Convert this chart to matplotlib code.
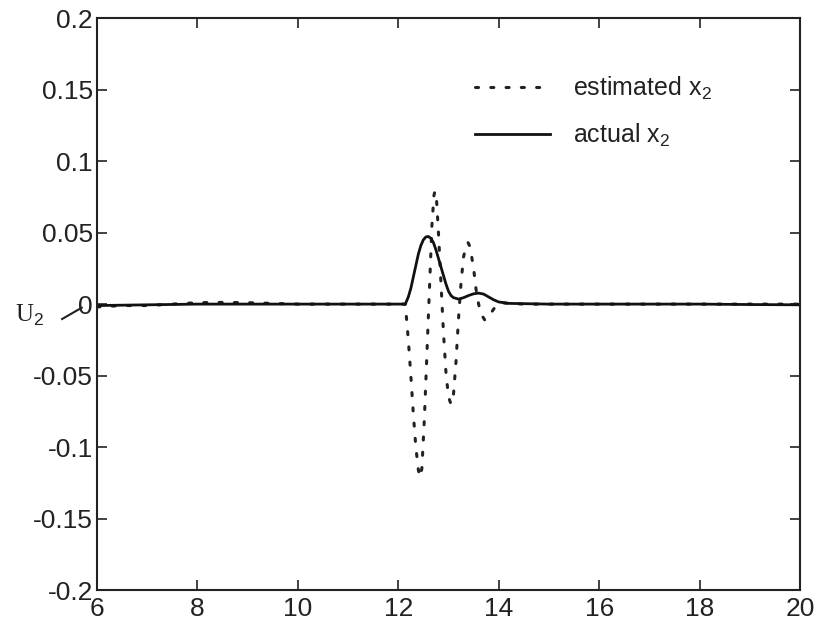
import matplotlib
matplotlib.use("Agg")
import matplotlib.pyplot as plt
from matplotlib.lines import Line2D

plt.rcParams['font.family'] = ['Liberation Sans', 'DejaVu Sans']
plt.rcParams['mathtext.fontset'] = 'custom'
plt.rcParams['mathtext.rm'] = 'Liberation Sans'

# actual x2
t_actual = [6, 7, 8, 9, 10, 11, 12, 12.14, 12.2, 12.25, 12.3, 12.35, 12.4, 12.45,
            12.5, 12.55, 12.6, 12.65, 12.7, 12.75, 12.8, 12.85, 12.9, 12.95, 13.0,
            13.05, 13.1, 13.2, 13.3, 13.4, 13.5, 13.6, 13.7, 13.8, 13.9, 14.0,
            14.2, 15, 16, 17, 18, 19, 20]
x2_actual = [-0.001, -0.0005, 0.0, 0.0, 0.0, 0.0, 0.0, 0.0, 0.005, 0.011, 0.019,
             0.027, 0.035, 0.041, 0.045, 0.047, 0.0473, 0.046, 0.043, 0.038,
             0.032, 0.026, 0.02, 0.014, 0.009, 0.006, 0.0045, 0.0035, 0.0045,
             0.006, 0.0072, 0.0077, 0.007, 0.005, 0.003, 0.0015, 0.0005, 0.0,
             0.0, 0.0, 0.0, -0.0003, -0.0005]

# estimated x2
t_est = [6, 6.5, 7, 7.5, 8, 8.5, 9, 9.5, 10, 11, 12, 12.14, 12.2, 12.25, 12.3,
         12.35, 12.4, 12.43, 12.47, 12.52, 12.57, 12.62, 12.67, 12.71, 12.73,
         12.76, 12.8, 12.85, 12.9, 12.95, 13.0, 13.05, 13.1, 13.15, 13.2, 13.25,
         13.3, 13.35, 13.39, 13.43, 13.5, 13.55, 13.6, 13.65, 13.72, 13.77,
         13.85, 13.95, 14.05, 14.2, 14.5, 15, 16, 17, 18, 19, 20]
x2_est = [-0.002, -0.001, -0.001, 0.0, 0.001, 0.0012, 0.001, 0.0005, 0.0, 0.0,
          0.0, 0.0, -0.025, -0.05, -0.077, -0.1, -0.116, -0.121, -0.115, -0.08,
          -0.035, 0.01, 0.055, 0.076, 0.079, 0.074, 0.05, 0.015, -0.02, -0.048,
          -0.065, -0.070, -0.063, -0.04, -0.01, 0.015, 0.033, 0.041, 0.043,
          0.04, 0.025, 0.01, 0.0, -0.007, -0.011, -0.0105, -0.006, -0.001,
          0.001, 0.0005, 0.0, 0.0, 0.0, 0.0, 0.0, 0.0, 0.0]

xticks = [6, 8, 10, 12, 14, 16, 18, 20]
yticks = [-0.2, -0.15, -0.1, -0.05, 0, 0.05, 0.1, 0.15, 0.2]
yticklabels = ['-0.2', '-0.15', '-0.1', '-0.05', '0', '0.05', '0.1', '0.15', '0.2']

fig = plt.figure(figsize=(8.17, 6.28), dpi=100)
ax = fig.add_axes([0.1187, 0.0605, 0.8605, 0.9105])

ax.plot(t_est, x2_est, color='#222222', linestyle=(0, (1, 4)), linewidth=2.2,
        dash_capstyle='round', label='estimated x$_2$')
ax.plot(t_actual, x2_actual, color='#111111', linestyle='-', linewidth=2.0,
        label='actual x$_2$')

ax.set_xlim(6, 20)
ax.set_ylim(-0.2, 0.2)
ax.set_xticks(xticks)
ax.set_xticklabels([str(v) for v in xticks])
ax.set_yticks(yticks)
ax.set_yticklabels(yticklabels)
ax.tick_params(direction='in', top=True, right=True, length=7, width=1.2,
               labelsize=19, colors='#222222', pad=3)
ax.tick_params(axis='x', pad=5)
for s in ax.spines.values():
    s.set_linewidth(1.5)
    s.set_color('#222222')

leg = ax.legend(loc='upper left', bbox_to_anchor=(0.538, 0.901), frameon=False,
                fontsize=18, handlelength=3.0, handletextpad=0.9,
                labelspacing=0.8, borderpad=0, borderaxespad=0,
                labelcolor='#222222')

fig.text(0.018, 0.497, 'U$_2$', fontsize=18, family='Liberation Serif',
         color='#222222', va='center')
fig.add_artist(Line2D([0.076, 0.1], [0.492, 0.51], color='#222222',
                      linewidth=1.5, transform=fig.transFigure))

fig.savefig('out.png', dpi=100)
